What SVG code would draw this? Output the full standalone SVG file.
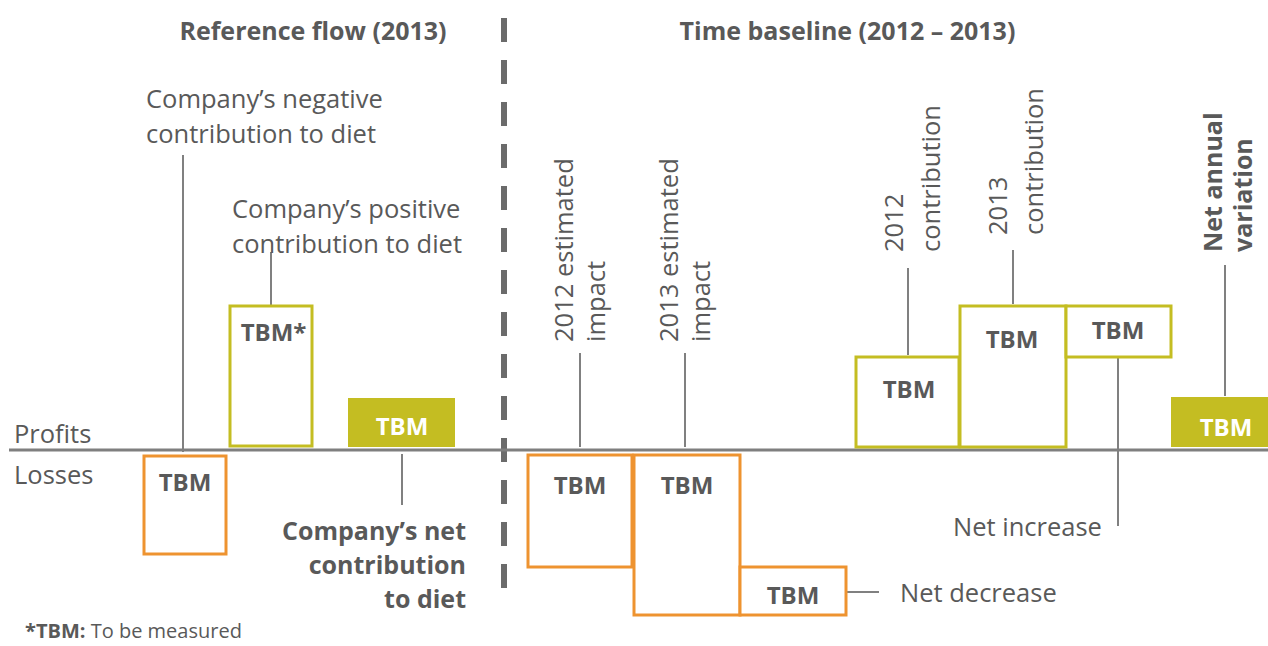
<svg xmlns="http://www.w3.org/2000/svg" width="1268" height="646" viewBox="0 0 1268 646">
<style>
text{font-family:"Open Sans","Liberation Sans",sans-serif;fill:#595959}
.t{font-size:25.5px}
.b{font-size:25px;font-weight:bold}
.tbm{font-size:24px;font-weight:bold;text-anchor:middle}
.w{fill:#ffffff}
.or{fill:#ffffff;stroke:#ee9330;stroke-width:3}
.gr{fill:#ffffff;stroke:#c4bd22;stroke-width:3}
.gf{fill:#c4bd22}
.ld{stroke:#808080;stroke-width:2;fill:none}
</style>
<rect width="1268" height="646" fill="#ffffff"/>
<g id="titles">
<text class="b" x="313" y="40" text-anchor="middle">Reference flow (2013)</text>
<text class="b" x="847.5" y="40" text-anchor="middle">Time baseline (2012 – 2013)</text>
</g>
<g id="divider">
<line x1="504" y1="18" x2="504" y2="588" stroke="#6b6b6b" stroke-width="6" stroke-dasharray="24 18"/>
</g>
<g id="connectors">
<line class="ld" x1="183" y1="155" x2="183" y2="452"/>
<line class="ld" x1="271" y1="252" x2="271" y2="305"/>
<line class="ld" x1="402" y1="454" x2="402" y2="505"/>
<line class="ld" x1="580" y1="353" x2="580" y2="447"/>
<line class="ld" x1="685" y1="353" x2="685" y2="447"/>
<line class="ld" x1="908" y1="268" x2="908" y2="355"/>
<line class="ld" x1="1013" y1="250" x2="1013" y2="304"/>
<line class="ld" x1="1118" y1="357" x2="1118" y2="526"/>
<line class="ld" x1="1225" y1="265" x2="1225" y2="396"/>
<line class="ld" x1="847" y1="592" x2="879" y2="592"/>
</g>
<g id="axis">
<line x1="9" y1="450" x2="1268" y2="450" stroke="#7f7f7f" stroke-width="3"/>
<text class="t" x="14" y="443">Profits</text>
<text class="t" x="14" y="484">Losses</text>
</g>
<g id="negative-contribution">
<rect class="or" x="144" y="456" width="82" height="98"/>
<text class="tbm" x="185" y="491">TBM</text>
<text class="t" x="146" y="108">Company’s negative</text>
<text class="t" x="146" y="143">contribution to diet</text>
</g>
<g id="positive-contribution">
<rect class="gr" x="230" y="306" width="82" height="140"/>
<text class="tbm" x="273.5" y="341">TBM*</text>
<text class="t" x="232" y="218">Company’s positive</text>
<text class="t" x="232" y="253">contribution to diet</text>
</g>
<g id="net-contribution">
<rect class="gf" x="348" y="398" width="107" height="49"/>
<text class="tbm w" x="402" y="435">TBM</text>
<text class="b" x="466" y="540" text-anchor="end">Company’s net</text>
<text class="b" x="466" y="574" text-anchor="end">contribution</text>
<text class="b" x="466" y="608" text-anchor="end">to diet</text>
</g>
<g id="impact-2012">
<rect class="or" x="528" y="455" width="104" height="112"/>
<text class="tbm" x="580" y="494">TBM</text>
<text class="t" transform="translate(573,342) rotate(-90)">2012 estimated</text>
<text class="t" transform="translate(605,342) rotate(-90)">impact</text>
</g>
<g id="impact-2013">
<rect class="or" x="634" y="455" width="106" height="160"/>
<text class="tbm" x="687" y="494">TBM</text>
<text class="t" transform="translate(678,342) rotate(-90)">2013 estimated</text>
<text class="t" transform="translate(710,342) rotate(-90)">impact</text>
</g>
<g id="net-decrease">
<rect class="or" x="740" y="567" width="106" height="48"/>
<text class="tbm" x="793" y="604">TBM</text>
<text class="t" x="900" y="602">Net decrease</text>
</g>
<g id="contribution-2012">
<rect class="gr" x="856" y="357" width="103" height="90"/>
<text class="tbm" x="909" y="398">TBM</text>
<text class="t" transform="translate(903,252) rotate(-90)">2012</text>
<text class="t" transform="translate(940,252) rotate(-90)">contribution</text>
</g>
<g id="contribution-2013">
<rect class="gr" x="960" y="306" width="106" height="141"/>
<text class="tbm" x="1012" y="348">TBM</text>
<text class="t" transform="translate(1007,235) rotate(-90)">2013</text>
<text class="t" transform="translate(1043,235) rotate(-90)">contribution</text>
</g>
<g id="net-increase">
<rect class="gr" x="1066" y="306" width="105" height="51"/>
<text class="tbm" x="1118" y="339">TBM</text>
<text class="t" x="953" y="536">Net increase</text>
</g>
<g id="net-annual-variation">
<rect class="gf" x="1171" y="397" width="97" height="50"/>
<text class="tbm w" x="1226" y="436">TBM</text>
<text class="b" transform="translate(1222,252) rotate(-90)">Net annual</text>
<text class="b" transform="translate(1252,252) rotate(-90)">variation</text>
</g>
<g id="footnote">
<text x="25" y="638" style="font-size:20px"><tspan font-weight="bold">*TBM:</tspan> To be measured</text>
</g>
</svg>
